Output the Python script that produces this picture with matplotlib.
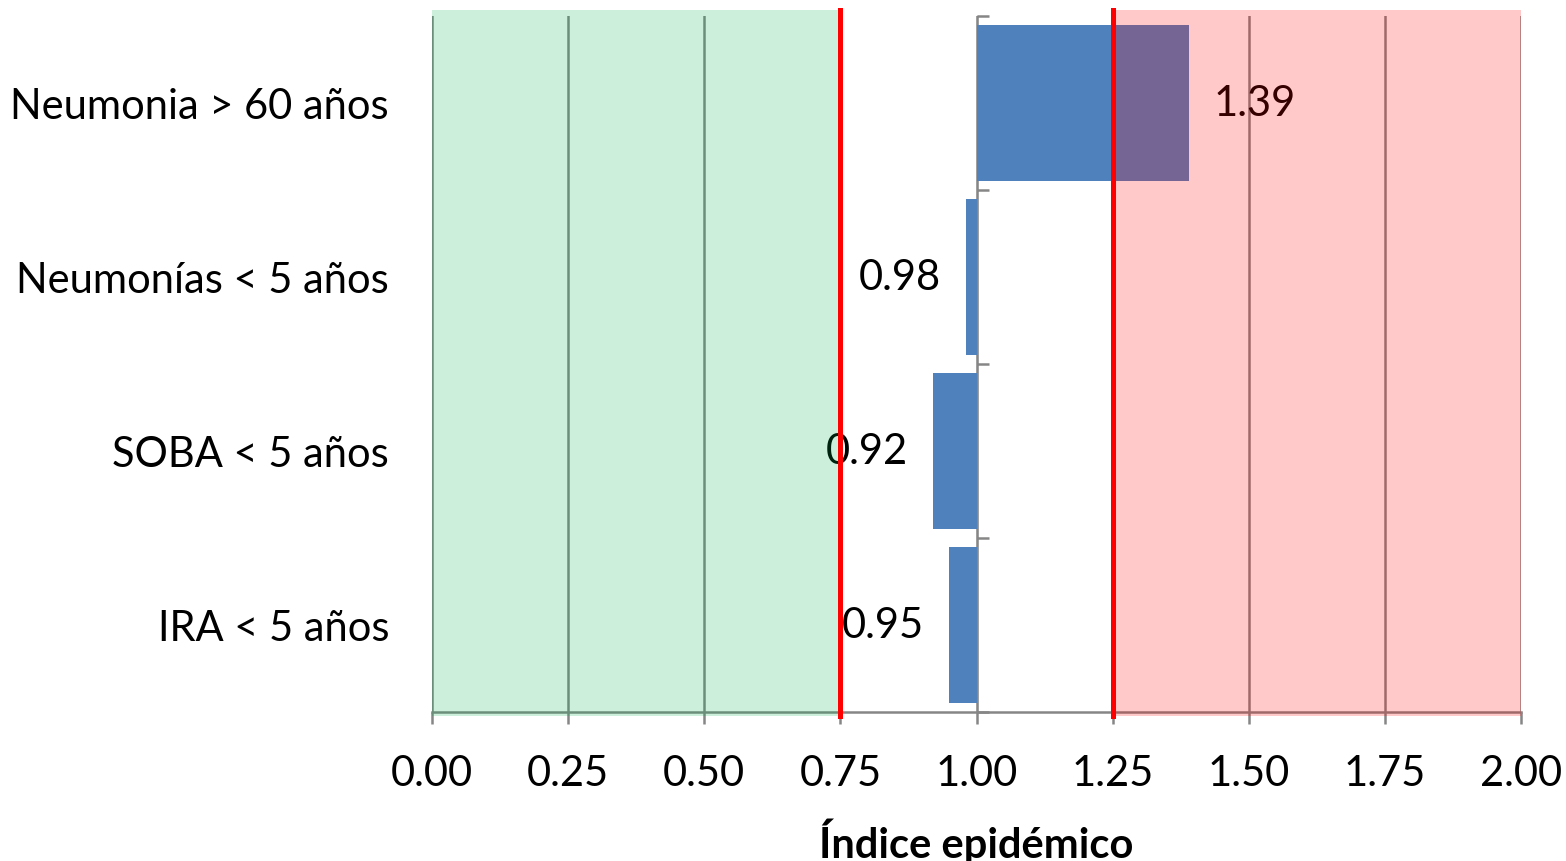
import matplotlib
matplotlib.use('Agg')
import matplotlib.pyplot as plt
from matplotlib.ticker import FormatStrFormatter
import numpy as np

# Epidemic index per respiratory category
categorias = ['Neumonia > 60 años', 'Neumonías < 5 años', 'SOBA < 5 años', 'IRA < 5 años']
indice = [1.39, 0.98, 0.92, 0.95]
etiquetas = ['1.39', '0.98', '0.92', '0.95']

base = 1.0          # bars grow from the expected value
zona_baja = (0.0, 0.75)
zona_alta = (1.25, 2.0)

plt.rcParams['font.family'] = ['Lato', 'DejaVu Sans']
FS = 30

fig = plt.figure(figsize=(15.66, 8.62), dpi=100)
ax = fig.add_axes([0.2759, 0.1729, 0.9713 - 0.2759, 0.9803 - 0.1729])

y = np.arange(len(categorias))
bars = ax.barh(y, np.array(indice) - base, left=base, height=0.9,
               color='#4F81BD', zorder=2)
ax.bar_label(bars, labels=etiquetas, padding=18, fontsize=FS, color='black', zorder=3)

# shaded zones drawn on top, like the original
ax.axvspan(*zona_baja, ymin=-0.006, ymax=1.008, color='#00B050', alpha=0.2,
           lw=0, zorder=4, clip_on=False)
ax.axvspan(*zona_alta, ymin=-0.006, ymax=1.008, color='#FF0000', alpha=0.21,
           lw=0, zorder=4, clip_on=False)
for xv in (zona_baja[1], zona_alta[0]):
    ax.axvline(xv, ymin=-0.006, ymax=1.008, color='#FF0000', lw=3.6,
               zorder=5, clip_on=False)

ax.set_xlim(0, 2)
ax.set_ylim(len(categorias) - 0.5, -0.5)
ax.set_xticks(np.arange(0, 2.01, 0.25))
ax.xaxis.set_major_formatter(FormatStrFormatter('%.2f'))
ax.grid(axis='x', color='#868686', lw=1.8, zorder=1)
ax.set_axisbelow(True)

ax.set_yticks(y)
ax.set_yticklabels(categorias)
ax.tick_params(axis='y', length=0, pad=31, labelsize=FS)
ax.tick_params(axis='x', length=8.5, width=1.8, color='#868686', pad=22, labelsize=FS)

for s in ('top', 'right', 'left'):
    ax.spines[s].set_visible(False)
ax.spines['bottom'].set_color('#868686')
ax.spines['bottom'].set_linewidth(1.8)

# vertical category axis crossing at 1.0
sec = ax.secondary_yaxis(0.5)
sec.set_yticks(np.arange(-0.5, len(categorias), 1.0))
sec.set_yticklabels([])
sec.tick_params(length=8.5, width=1.8, color='#868686')
sec.spines['left'].set_color('#868686')
sec.spines['left'].set_linewidth(1.8)

ax.set_xlabel('Índice epidémico', fontsize=FS, fontweight='bold', labelpad=18)

fig.savefig('out.png', dpi=100)
